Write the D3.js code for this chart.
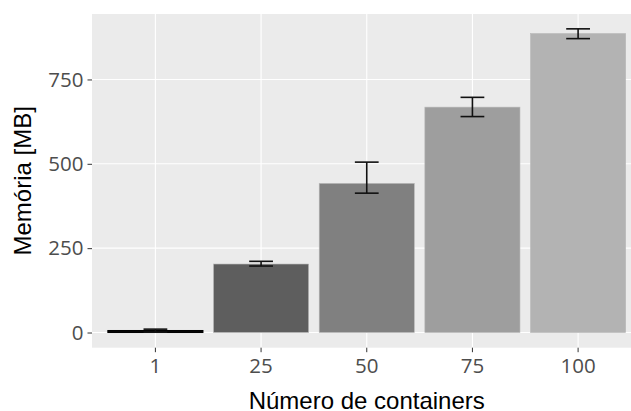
<!DOCTYPE html>
<html><head><meta charset="utf-8">
<script src="https://cdn.jsdelivr.net/npm/d3@7"></script>
<style>body{margin:0;background:#fff;}svg{display:block;}</style>
</head><body>
<svg id="c" width="631" height="411"></svg>
<script>
const categories = ["1", "25", "50", "75", "100"];
const means = [6, 203, 442, 668, 886];
const upper = [10, 211, 505, 697, 900];
const lower = [1, 197, 413, 640, 871];
const fills = ["#050505", "#5e5e5e", "#808080", "#9e9e9e", "#b3b3b3"];
const yTicks = [0, 250, 500, 750];

const svg = d3.select("#c");
const L = 92, R = 641.5, T = 14, B = 347.7;
const x = d3.scaleBand().domain(categories).range([L, R]).paddingInner(0.1).paddingOuter(0.15);
const y = d3.scaleLinear().domain([-45, 944]).range([B, T]);

svg.append("rect").attr("x", L).attr("y", T).attr("width", R - L).attr("height", B - T).attr("fill", "#ebebeb");

const g = svg.append("g");
yTicks.forEach(t => {
  g.append("line").attr("x1", L).attr("x2", R).attr("y1", y(t)).attr("y2", y(t)).attr("stroke", "#fff").attr("stroke-width", 1.1);
});
categories.forEach(c => {
  const cx = x(c) + x.bandwidth() / 2;
  g.append("line").attr("x1", cx).attr("x2", cx).attr("y1", T).attr("y2", B).attr("stroke", "#fff").attr("stroke-width", 1.1);
});

const data = categories.map((c, i) => ({c, m: means[i], u: upper[i], l: lower[i], f: fills[i]}));
svg.selectAll("rect.bar").data(data).enter().append("rect").attr("class", "bar")
  .attr("x", d => x(d.c)).attr("width", x.bandwidth())
  .attr("y", d => y(d.m)).attr("height", d => y(0) - y(d.m))
  .attr("fill", d => d.f).attr("stroke", (d, i) => i === 0 ? "#000" : "#b8b8b8").attr("stroke-width", (d, i) => i === 0 ? 1 : 0.6);

const cap = x.step() * 0.225;
data.forEach(d => {
  const cx = x(d.c) + x.bandwidth() / 2;
  const eg = svg.append("g").attr("stroke", "#111").attr("stroke-width", 1.6);
  eg.append("line").attr("x1", cx).attr("x2", cx).attr("y1", y(d.u)).attr("y2", y(d.l));
  eg.append("line").attr("x1", cx - cap / 2).attr("x2", cx + cap / 2).attr("y1", y(d.u)).attr("y2", y(d.u));
  eg.append("line").attr("x1", cx - cap / 2).attr("x2", cx + cap / 2).attr("y1", y(d.l)).attr("y2", y(d.l));
});

const yAxis = d3.axisLeft(y).tickValues(yTicks).tickSize(4.5).tickPadding(4);
const ya = svg.append("g").attr("transform", `translate(${L},0)`).call(yAxis);
const xAxis = d3.axisBottom(x).tickSize(4.5).tickPadding(6);
const xa = svg.append("g").attr("transform", `translate(0,${B})`).call(xAxis);
[ya, xa].forEach(a => {
  a.select(".domain").remove();
  a.selectAll(".tick line").attr("stroke", "#333").attr("stroke-width", 1);
  a.selectAll(".tick text").attr("fill", "#4d4d4d").style("font-family", "'Open Sans'").style("font-size", "20.5px");
});

svg.append("text").attr("x", (L + R) / 2).attr("y", 408.5).attr("text-anchor", "middle")
  .style("font-family", "'Liberation Sans', Arial, sans-serif").style("font-size", "24px").attr("fill", "#000")
  .text("Número de containers");
svg.append("text").attr("transform", `translate(31,${(T + B) / 2}) rotate(-90)`).attr("text-anchor", "middle")
  .style("font-family", "'Liberation Sans', Arial, sans-serif").style("font-size", "24px").attr("fill", "#000")
  .text("Memória [MB]");
</script>
</body></html>
